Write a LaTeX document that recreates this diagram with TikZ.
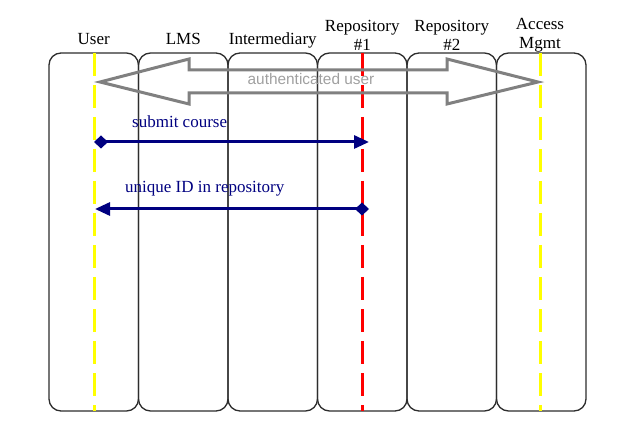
\documentclass[tikz,border=0pt]{standalone}
\usepackage{fontspec}
\setmainfont{Liberation Serif}
\setsansfont{Liberation Sans}
\usetikzlibrary{arrows.meta}
\definecolor{navy}{RGB}{0,0,128}
\definecolor{lanegray}{RGB}{45,45,45}
\definecolor{arrgray}{RGB}{128,128,128}
\definecolor{txtgray}{RGB}{160,160,160}
\definecolor{lifeyellow}{RGB}{255,255,0}
\definecolor{lifered}{RGB}{255,0,0}
\begin{document}
\begin{tikzpicture}[x=1pt,y=-1pt,
  lane/.style={draw=lanegray, line width=1.3pt, rounded corners=12pt,
    minimum width=89.5pt, minimum height=358pt, inner sep=0pt, outer sep=0pt, anchor=north},
  head/.style={font=\fontsize{17}{19}\selectfont, align=center, inner sep=0pt, anchor=north},
  lifeline/.style={line width=3pt, dash pattern=on 23pt off 9pt},
  msg/.style={draw=navy, line width=3pt,
    {Diamond[length=14pt,width=13pt]}-{Triangle[length=15pt,width=13pt]}},
  msglabel/.style={text=navy, font=\fontsize{17}{19}\selectfont, anchor=base west, inner sep=0pt},
  bigarrow/.style={draw=arrgray, line width=3pt, line join=miter},
  biglabel/.style={text=txtgray, font=\sffamily\fontsize{15.4}{17}\selectfont, anchor=base, inner sep=0pt},
]
\useasboundingbox (0,0) rectangle (639,443);

% swimlanes
\node[lane] (user)  at (93.75,53) {};
\node[lane] (lms)   at (183.25,53) {};
\node[lane] (inter) at (272.75,53) {};
\node[lane] (rep1)  at (362.25,53) {};
\node[lane] (rep2)  at (451.75,53) {};
\node[lane] (acc)   at (541.25,53) {};

% headers
\node[head] (huser)  at (93.75,33) {User};
\node[head] (hlms)   at (183.25,33) {LMS};
\node[head] (hinter) at (272.75,33) {Intermediary};
\node[head] (hrep1)  at (362.25,20) {Repository\\\#1};
\node[head] (hrep2)  at (451.75,20) {Repository\\\#2};
\node[head] (hacc)   at (540,18) {Access\\Mgmt};

% lifelines
\coordinate (userTop) at (94,53);  \coordinate (userBot) at (94,411);
\coordinate (rep1Top) at (362,53); \coordinate (rep1Bot) at (362,411);
\coordinate (accTop)  at (540,53); \coordinate (accBot)  at (540,411);
\draw[lifeline, lifeyellow] (userTop) -- (userBot);
\draw[lifeline, lifered]    (rep1Top) -- (rep1Bot);
\draw[lifeline, lifeyellow] (accTop) -- (accBot);

% hollow double arrow
\draw[bigarrow] (100,82) -- (189,59) -- (189,70) -- (447,70) -- (447,59) -- (538,82)
  -- (447,104) -- (447,93) -- (189,93) -- (189,104) -- cycle;
\node[biglabel] (auth) at (311,85) {authenticated user};

% messages
\coordinate (m1s) at (94,142);  \coordinate (m1e) at (369,142);
\coordinate (m2s) at (369,209); \coordinate (m2e) at (95,209);
\draw[msg] (m1s) -- (m1e);
\draw[msg] (m2s) -- (m2e);
\node[msglabel] (l1) at (132,128) {submit course};
\node[msglabel] (l2) at (125,193) {unique ID in repository};
\end{tikzpicture}
\end{document}
